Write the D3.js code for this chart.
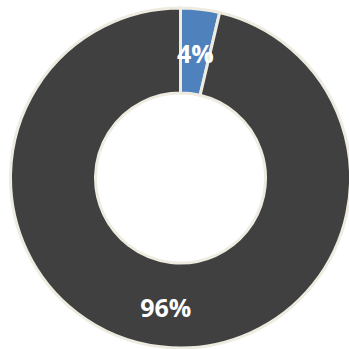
<!DOCTYPE html>
<html>
<head>
<meta charset="utf-8">
<script src="https://cdn.jsdelivr.net/npm/d3@7"></script>
<style>
  body { margin: 0; background: #fff; }
</style>
</head>
<body>
<div class="chart"></div>
<script>
var svgWidth = 349;
var svgHeight = 349;

// data
var categories = ["A", "B"];
var values = [3.7, 96.3];
var labels = ["4%", "96%"];
var colors = ["#4f81bd", "#404040"];

var cx = 180.5, cy = 178;
var outerR = 170, innerR = 85;

var svg = d3.select(".chart")
  .append("svg")
  .attr("width", svgWidth)
  .attr("height", svgHeight);

var chartGroup = svg.append("g")
  .attr("transform", `translate(${cx}, ${cy})`);

var data = categories.map(function(c, i) {
  return { cat: c, value: values[i], label: labels[i], color: colors[i] };
});

var pie = d3.pie()
  .sort(null)
  .value(d => d.value);

var arc = d3.arc()
  .innerRadius(innerR)
  .outerRadius(outerR);

var labelArc = d3.arc()
  .innerRadius((innerR + outerR) / 2)
  .outerRadius((innerR + outerR) / 2);

var arcs = pie(data);

chartGroup.selectAll("path")
  .data(arcs)
  .enter()
  .append("path")
  .attr("d", arc)
  .attr("fill", d => d.data.color)
  .attr("stroke", "#eeece1")
  .attr("stroke-width", 3);

// labels sit a little below the ring's midline, as in the picture
chartGroup.selectAll(null)
  .data(arcs)
  .enter()
  .append("text")
  .attr("transform", d => `translate(${labelArc.centroid(d)})`)
  .attr("dy", "0.48em")
  .attr("text-anchor", "middle")
  .attr("font-family", "'Open Sans', sans-serif")
  .attr("font-weight", "bold")
  .attr("font-size", "25px")
  .attr("fill", "#fff")
  .text(d => d.data.label);
</script>
</body>
</html>
